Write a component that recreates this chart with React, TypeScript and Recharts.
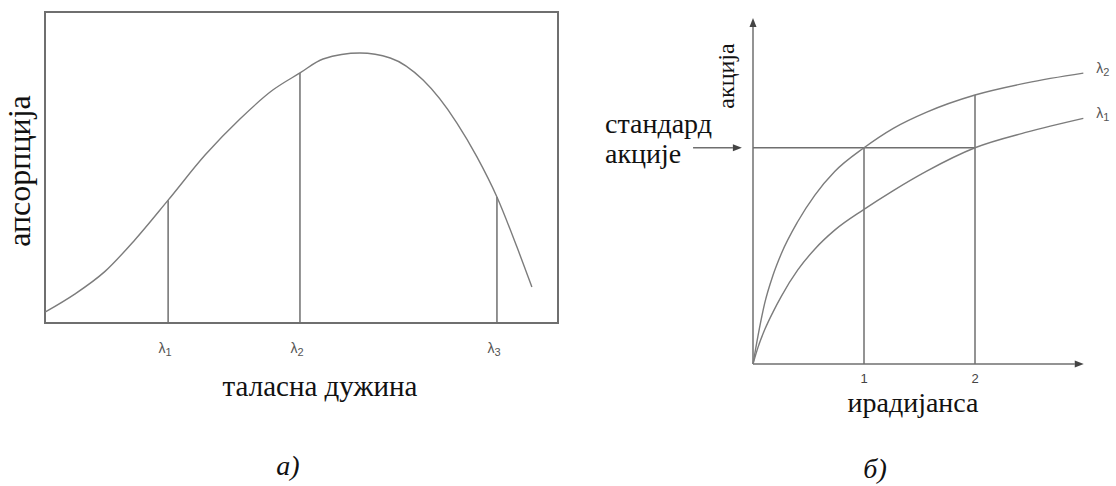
import React from 'react';
import {
  LineChart,
  Line,
  XAxis,
  YAxis,
  ReferenceLine,
  ReferenceArea,
  LabelList
} from 'recharts';

// a) absorption spectrum, x = wavelength (0..100), y = absorption (0..100)
const waveX = [0, 5.8, 11.7, 17.5, 24.0, 31.2, 38.0, 44.4, 49.7, 54.2, 61.4, 67.3, 73.7, 80.3, 84.2, 88.1, 92.0, 94.9];
const absorb = [3.5, 9.3, 16.6, 26.7, 39.5, 54.0, 65.6, 74.9, 80.4, 84.9, 86.8, 85.2, 78.1, 64.3, 53.4, 40.5, 24.4, 11.6];
const lambdaX = [24.0, 49.7, 88.1];
const lambdaSub = ['1', '2', '3'];

// б) action vs irradiance for two wavelengths
const irrX = [0, 0.045, 0.105, 0.18, 0.255, 0.405, 0.556, 0.736, 1.0, 1.264, 1.565, 2.0, 2.466, 2.976];
const actionL2 = [0, 1.3, 2.8, 4.1, 5.1, 6.6, 7.8, 8.9, 10.0, 10.9, 11.65, 12.44, 13.0, 13.45];
const actionL1 = [0, 0.77, 1.58, 2.4, 3.13, 4.36, 5.31, 6.19, 7.15, 8.02, 8.92, 10.0, 10.72, 11.36];
const irrTicks = [1, 2];
const standardAction = 10;

const spectrum = waveX.map((x, i) => ({ x, y: absorb[i] }));
const response = irrX.map((x, i) => ({ x, l1: actionL1[i], l2: actionL2[i] }));

const LINE = '#7c7c7c';
const AXIS = '#6f6f6f';
const SERIF = '"Liberation Serif"';
const SANS = '"Liberation Sans", Arial, sans-serif';

// line with a filled arrow head at (x2, y2)
function arrowShape(props: any) {
  const { x1, y1, x2, y2 } = props;
  const a = Math.atan2(y2 - y1, x2 - x1);
  const len = 9;
  const half = 3.5;
  const bx = x2 - len * Math.cos(a);
  const by = y2 - len * Math.sin(a);
  const px = -Math.sin(a) * half;
  const py = Math.cos(a) * half;
  return (
    <g>
      <line x1={x1} y1={y1} x2={bx} y2={by} stroke={AXIS} strokeWidth={1.5} />
      <polygon points={`${x2},${y2} ${bx + px},${by + py} ${bx - px},${by - py}`} fill="#444" />
    </g>
  );
}

function LambdaTick({ x, y, payload }: any) {
  const i = lambdaX.indexOf(payload.value);
  return (
    <text x={x - 3} y={y + 22} textAnchor="middle" fill="#555" fontFamily={SANS} fontSize={14}>
      λ<tspan fontSize={11} dy={3}>{lambdaSub[i]}</tspan>
    </text>
  );
}

function endLabel(sub: string) {
  return (p: any) => {
    if (p.index !== irrX.length - 1) return null;
    return (
      <text x={p.x + 13} y={p.y} fill="#555" fontFamily={SANS} fontSize={14}>
        λ<tspan fontSize={11} dy={3}>{sub}</tspan>
      </text>
    );
  };
}

function Caption({ x, y, size, children, rotate = 0, italic = false, align = 'center' }: any) {
  const tx = align === 'center' ? '-50%' : '0';
  return (
    <div
      style={{
        position: 'absolute',
        left: x,
        top: y,
        whiteSpace: 'nowrap',
        fontFamily: SERIF,
        fontSize: size,
        lineHeight: 1,
        fontStyle: italic ? 'italic' : 'normal',
        color: '#111',
        transform: `translate(${tx}, -50%) rotate(${rotate}deg)`,
        transformOrigin: align === 'center' ? '50% 50%' : '0 50%'
      }}
    >
      {children}
    </div>
  );
}

export default function App() {
  const l2At2 = actionL2[irrX.indexOf(2)];
  return (
    <div style={{ position: 'absolute', left: 0, top: 0, width: 1116, height: 486, background: '#fff' }}>
      <div style={{ position: 'absolute', left: 0, top: 0 }}>
        <LineChart width={580} height={486} data={spectrum} margin={{ top: 12, right: 22, bottom: 133, left: 45 }}>
          <XAxis
            dataKey="x"
            type="number"
            domain={[0, 100]}
            ticks={lambdaX}
            interval={0}
            axisLine={false}
            tickLine={false}
            tick={<LambdaTick />}
            height={30}
          />
          <YAxis type="number" domain={[0, 100]} hide />
          <ReferenceArea x1={0} x2={100} y1={0} y2={100} fill="none" stroke={AXIS} strokeWidth={2} fillOpacity={0} />
          {lambdaX.map((lx) => (
            <ReferenceLine
              key={lx}
              segment={[{ x: lx, y: 0 }, { x: lx, y: absorb[waveX.indexOf(lx)] }]}
              stroke={AXIS}
              strokeWidth={1.5}
            />
          ))}
          <Line type="monotone" dataKey="y" stroke={LINE} strokeWidth={1.4} dot={false} isAnimationActive={false} />
        </LineChart>
      </div>

      <div style={{ position: 'absolute', left: 600, top: 0 }}>
        <LineChart width={516} height={486} data={response} margin={{ top: 18, right: 30, bottom: 92, left: 153 }}>
          <XAxis
            dataKey="x"
            type="number"
            domain={[0, 3]}
            ticks={irrTicks}
            axisLine={false}
            tickLine={false}
            tickMargin={4}
            tick={{ fill: '#444', fontSize: 13, fontFamily: SANS }}
            height={30}
          />
          <YAxis type="number" domain={[0, 16]} hide />
          <ReferenceLine segment={[{ x: 0, y: 0 }, { x: 2.98, y: 0 }]} shape={arrowShape} />
          <ReferenceLine segment={[{ x: 0, y: 0 }, { x: 0, y: 16 }]} shape={arrowShape} />
          <ReferenceLine
            segment={[{ x: -0.54, y: standardAction }, { x: -0.1, y: standardAction }]}
            ifOverflow="visible"
            shape={arrowShape}
          />
          <ReferenceLine segment={[{ x: 0, y: standardAction }, { x: 2, y: standardAction }]} stroke={AXIS} strokeWidth={1.5} />
          <ReferenceLine segment={[{ x: 1, y: 0 }, { x: 1, y: standardAction }]} stroke={AXIS} strokeWidth={1.5} />
          <ReferenceLine segment={[{ x: 2, y: 0 }, { x: 2, y: l2At2 }]} stroke={AXIS} strokeWidth={1.5} />
          <Line type="monotone" dataKey="l2" stroke={LINE} strokeWidth={1.4} dot={false} isAnimationActive={false}>
            <LabelList dataKey="l2" content={endLabel('2')} />
          </Line>
          <Line type="monotone" dataKey="l1" stroke={LINE} strokeWidth={1.4} dot={false} isAnimationActive={false}>
            <LabelList dataKey="l1" content={endLabel('1')} />
          </Line>
        </LineChart>
      </div>

      <Caption x={19} y={171} size={32} rotate={-90}>апсорпција</Caption>
      <Caption x={320} y={386} size={29}>таласна дужина</Caption>
      <Caption x={288} y={466} size={28} italic>а)</Caption>

      <Caption x={726} y={76} size={24} rotate={-90}>акција</Caption>
      <Caption x={605} y={124} size={28} align="left">стандард</Caption>
      <Caption x={605} y={154} size={28} align="left">акције</Caption>
      <Caption x={913} y={403} size={28}>ирадијанса</Caption>
      <Caption x={875} y={469} size={28} italic>б)</Caption>
    </div>
  );
}
